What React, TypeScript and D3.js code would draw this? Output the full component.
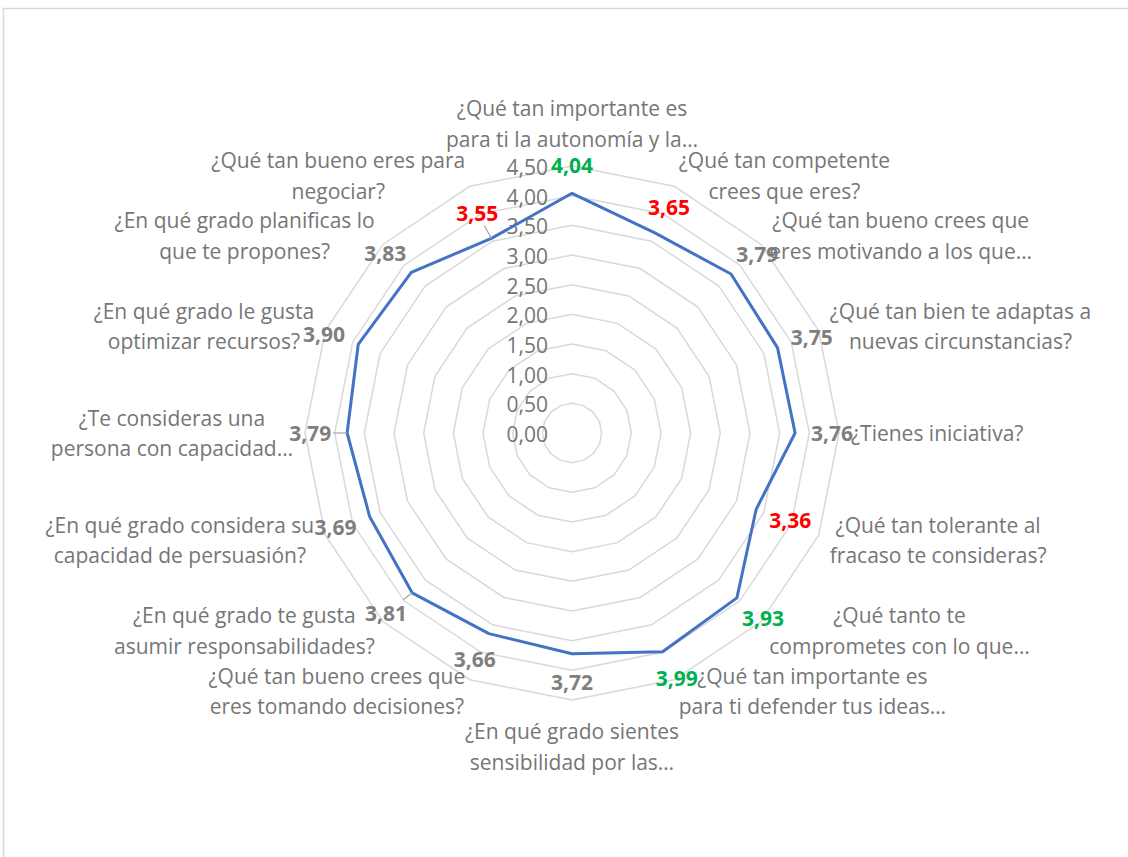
import React, { useEffect, useRef } from "react";
import * as d3 from "d3";

const CATEGORY_LINES: string[][] = [
  ["¿Qué tan importante es", "para ti la autonomía y la…"],
  ["¿Qué tan competente", "crees que eres?"],
  ["¿Qué tan bueno crees que", "eres motivando a los que…"],
  ["¿Qué tan bien te adaptas a", "nuevas circunstancias?"],
  ["¿Tienes iniciativa?"],
  ["¿Qué tan tolerante al", "fracaso te consideras?"],
  ["¿Qué tanto te", "comprometes con lo que…"],
  ["¿Qué tan importante es", "para ti defender tus ideas…"],
  ["¿En qué grado sientes", "sensibilidad por las…"],
  ["¿Qué tan bueno crees que", "eres tomando decisiones?"],
  ["¿En qué grado te gusta", "asumir responsabilidades?"],
  ["¿En qué grado considera su", "capacidad de persuasión?"],
  ["¿Te consideras una", "persona con capacidad…"],
  ["¿En qué grado le gusta", "optimizar recursos?"],
  ["¿En qué grado planificas lo", "que te propones?"],
  ["¿Qué tan bueno eres para", "negociar?"],
];

const VALUES: number[] = [
  4.04, 3.65, 3.79, 3.75, 3.76, 3.36, 3.93, 3.99, 3.72, 3.66, 3.81, 3.69, 3.79, 3.9, 3.83, 3.55,
];

// label tone per point: "high" (green), "low" (red), "mid" (gray)
const LABEL_TONES: string[] = [
  "high", "low", "mid", "mid", "mid", "low", "high", "high", "mid", "mid", "mid", "mid", "mid", "mid", "mid", "low",
];

const LEADER_POINTS: number[] = [10, 12, 15];

const TICKS: number[] = [0, 0.5, 1, 1.5, 2, 2.5, 3, 3.5, 4, 4.5];

const TONE_COLORS: Record<string, string> = {
  high: "#00b050",
  low: "#ff0000",
  mid: "#7f7f7f",
};

const FONT = "'Open Sans', 'DejaVu Sans', sans-serif";

export default function App() {
  const ref = useRef<SVGSVGElement | null>(null);

  useEffect(() => {
    if (!ref.current) return;
    const svg = d3.select(ref.current);
    svg.selectAll("*").remove();

    const W = 1128;
    const H = 857;
    const cx = 572;
    const cy = 433;
    const N = VALUES.length;
    const fmt = (v: number) => d3.format(".2f")(v).replace(".", ",");

    svg.append("rect").attr("x", 0).attr("y", 0).attr("width", W).attr("height", H).attr("fill", "#ffffff");
    svg
      .append("rect")
      .attr("x", 3.5)
      .attr("y", 8.5)
      .attr("width", 1300)
      .attr("height", 1000)
      .attr("fill", "none")
      .attr("stroke", "#d9d9d9")
      .attr("stroke-width", 1.5);

    const r = d3.scaleLinear().domain([0, 4.5]).range([0, 267]);
    const angle = d3.scaleLinear().domain([0, N]).range([0, 2 * Math.PI]);
    const px = (i: number, rad: number) => Math.sin(angle(i)) * rad;
    const py = (i: number, rad: number) => -Math.cos(angle(i)) * rad;

    const g = svg.append("g").attr("transform", `translate(${cx},${cy})`);

    const ring = d3
      .lineRadial<number>()
      .angle((_d, i) => angle(i))
      .radius((d) => r(d))
      .curve(d3.curveLinearClosed);

    TICKS.filter((t) => t > 0).forEach((t) => {
      g.append("path")
        .attr("d", ring(d3.range(N).map(() => t)) as string)
        .attr("fill", "none")
        .attr("stroke", "#d9d9d9")
        .attr("stroke-width", 1.5);
    });

    // tick labels
    g.selectAll("text.tick")
      .data(TICKS)
      .enter()
      .append("text")
      .attr("class", "tick")
      .attr("x", -24)
      .attr("y", (d) => -r(d) + 1)
      .attr("text-anchor", "end")
      .attr("dominant-baseline", "central")
      .attr("font-family", FONT)
      .attr("font-size", 21)
      .attr("fill", "#767676")
      .text((d) => fmt(d));

    // series line
    g.append("path")
      .attr("d", ring(VALUES) as string)
      .attr("fill", "none")
      .attr("stroke", "#4472c4")
      .attr("stroke-width", 3)
      .attr("stroke-linejoin", "round");

    // data labels
    const hw = 21;
    const hh = 12;
    const gap = 16;
    VALUES.forEach((v, i) => {
      const s = Math.sin(angle(i));
      const c = -Math.cos(angle(i));
      const x0 = px(i, r(v));
      const y0 = py(i, r(v));
      const lx = x0 + s * (hw + gap);
      const ly = y0 + c * (hh + gap);
      if (LEADER_POINTS.includes(i)) {
        // line from label box edge to point
        const dx = x0 - lx;
        const dy = y0 - ly;
        const tx = Math.abs(dx) > 1e-6 ? (hw + 2) / Math.abs(dx) : Infinity;
        const ty = Math.abs(dy) > 1e-6 ? (hh + 1) / Math.abs(dy) : Infinity;
        const t = Math.min(tx, ty, 1);
        g.append("line")
          .attr("x1", lx + dx * t)
          .attr("y1", ly + dy * t)
          .attr("x2", x0)
          .attr("y2", y0)
          .attr("stroke", "#a6a6a6")
          .attr("stroke-width", 1.2);
      }
      g.append("text")
        .attr("x", lx)
        .attr("y", ly)
        .attr("text-anchor", "middle")
        .attr("dominant-baseline", "central")
        .attr("font-family", FONT)
        .attr("font-size", 21)
        .attr("font-weight", "bold")
        .attr("fill", TONE_COLORS[LABEL_TONES[i]])
        .text(fmt(v));
    });

    // category labels
    const labelR = r(4.5) + 12;
    const lineH = 30.5;
    CATEGORY_LINES.forEach((lines, i) => {
      const s = Math.sin(angle(i));
      const c = -Math.cos(angle(i));
      const ax = px(i, labelR);
      const ay = py(i, labelR);
      const t = g
        .append("text")
        .attr("font-family", FONT)
        .attr("font-size", 21)
        .attr("fill", "#767676")
        .attr("text-anchor", "middle")
        .attr("dominant-baseline", "central");
      const spans = lines.map((ln) => t.append("tspan").text(ln));
      const widths = spans.map((sp) => (sp.node() as SVGTSpanElement).getComputedTextLength());
      const bw = Math.max(...widths);
      const bh = lines.length * lineH;
      let bx: number; // box center x
      let by: number; // box center y
      if (Math.abs(s) < 0.01) {
        bx = ax;
        by = c < 0 ? ay - bh / 2 : ay + bh / 2 + 4;
      } else if (s > 0) {
        bx = ax + bw / 2;
        by = ay;
      } else {
        bx = ax - bw / 2;
        by = ay;
      }
      spans.forEach((sp, k) => {
        sp.attr("x", bx).attr("y", by - bh / 2 + lineH * (k + 0.5));
      });
    });
  }, []);

  return (
    <svg
      ref={ref}
      width={1128}
      height={857}
      style={{ position: "absolute", left: 0, top: 0, display: "block" }}
    />
  );
}
